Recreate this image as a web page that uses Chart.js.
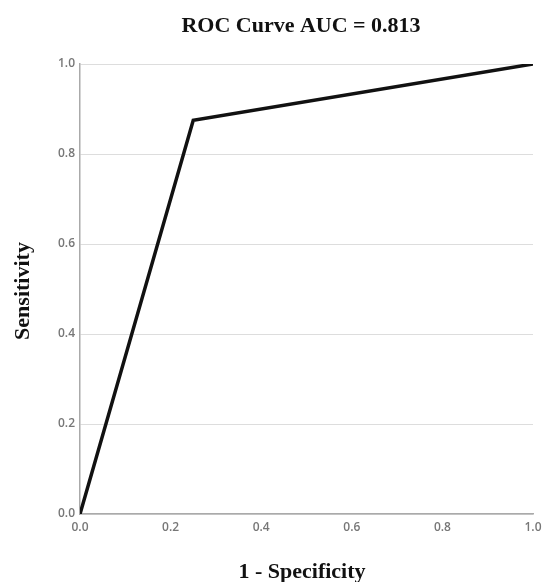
<!DOCTYPE html>
<html>
<head>
<meta charset="utf-8">
<script src="https://cdn.jsdelivr.net/npm/chart.js@4"></script>
<style>
  html, body { margin: 0; padding: 0; background: #fff; }
  #wrap { width: 544px; height: 582px; }
</style>
</head>
<body>
<div id="wrap"><canvas id="roc" width="544" height="582"></canvas></div>
<script>
"use strict";

// values
const specInv = [0, 0.25, 1];       // 1 - Specificity
const sensitivity = [0, 0.875, 1];  // Sensitivity
const tickValues = [0, 0.2, 0.4, 0.6, 0.8, 1.0];
const chartTitle = "ROC Curve AUC = 0.813";
const xTitle = "1 - Specificity";
const yTitle = "Sensitivity";

const serifBold = "bold 22px 'Liberation Serif', 'Times New Roman', serif";
const tickFont = { family: "'Open Sans', sans-serif", size: 12, weight: "600" };

// titles are drawn by hand so they sit where the original puts them
const titles = {
  id: "titles",
  afterDraw(chart) {
    const c = chart.ctx;
    c.save();
    c.fillStyle = "#111";
    c.font = serifBold;
    c.textAlign = "center";
    c.textBaseline = "alphabetic";
    c.fillText(chartTitle, 301, 32);
    c.fillText(xTitle, 302, 578);
    c.translate(29, 291);
    c.rotate(-Math.PI / 2);
    c.fillText(yTitle, 0, 0);
    c.restore();
  }
};

const ctx = document.getElementById("roc");

const rocChart = new Chart(ctx, {
  type: "scatter",
  data: {
    datasets: [
      {
        data: specInv.map((x, i) => ({ x: x, y: sensitivity[i] })),
        showLine: true,
        borderColor: "#111",
        borderWidth: 3.5,
        pointRadius: 0,
        fill: false,
      },
    ],
  },
  options: {
    responsive: false,
    animation: false,
    layout: { padding: { left: 0, right: 11, top: 64, bottom: 40 } },
    plugins: {
      legend: { display: false },
      title: { display: false },
      tooltip: { enabled: false },
    },
    scales: {
      x: {
        type: "linear",
        min: 0,
        max: 1,
        afterBuildTicks: (s) => { s.ticks = tickValues.map(v => ({ value: v })); },
        afterFit: (s) => { s.height = 28; s.paddingLeft = 0; s.paddingRight = 0; },
        ticks: {
          callback: (v) => Number(v).toFixed(1),
          color: "#777",
          font: tickFont,
          padding: 6,
          maxRotation: 0,
        },
        grid: { display: false, drawTicks: false },
        border: { display: true, color: "#aaa", width: 1.5 },
      },
      y: {
        type: "linear",
        min: 0,
        max: 1,
        afterBuildTicks: (s) => { s.ticks = tickValues.map(v => ({ value: v })); },
        afterFit: (s) => { s.width = 80; s.paddingTop = 0; s.paddingBottom = 0; },
        ticks: {
          callback: (v) => Number(v).toFixed(1),
          color: "#777",
          font: tickFont,
          padding: 5,
        },
        grid: { color: "#ddd", lineWidth: 1, drawTicks: false },
        border: { display: true, color: "#aaa", width: 1.5 },
      },
    },
  },
  plugins: [titles],
});
</script>
</body>
</html>
